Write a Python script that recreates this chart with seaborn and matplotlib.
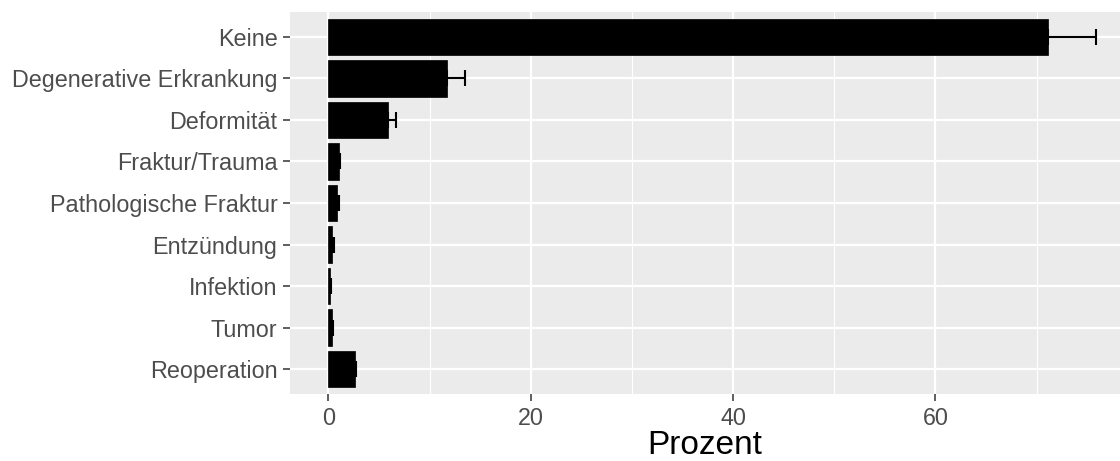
import matplotlib
matplotlib.use("Agg")
import matplotlib.pyplot as plt
import seaborn as sns
import pandas as pd
from matplotlib.ticker import MultipleLocator

categories = ["Keine", "Degenerative Erkrankung", "Deformität", "Fraktur/Trauma",
              "Pathologische Fraktur", "Entzündung", "Infektion", "Tumor", "Reoperation"]
values = [71.1, 11.7, 5.9, 1.0, 0.8, 0.4, 0.2, 0.4, 2.6]
errors = [4.8, 1.8, 0.8, 0.1, 0.25, 0.15, 0.1, 0.1, 0.15]
xticks = [0, 20, 40, 60]

df = pd.DataFrame({"cat": categories, "val": values, "err": errors})

sns.set_theme(style="darkgrid")
plt.rcParams["font.family"] = ["Liberation Sans", "DejaVu Sans"]

fig = plt.figure(figsize=(11.2, 4.61), dpi=100)
ax = fig.add_axes([290/1120, 1 - 394/461, (1120-290)/1120, (394-12)/461])
ax.set_facecolor("#EBEBEB")

sns.barplot(data=df, x="val", y="cat", order=categories, color="black",
            saturation=1, width=0.88, ax=ax, errorbar=None, edgecolor="black", linewidth=0.5)
ax.errorbar(df["val"], range(len(categories)), xerr=[[0]*len(errors), df["err"]],
            fmt="none", ecolor="black", elinewidth=1.5, capsize=6.1, capthick=1.5, zorder=3)

ax.set_xlim(-3.8, 78.25)
ax.set_ylim(len(categories) - 0.4, -0.6)
ax.set_xticks(xticks)
ax.xaxis.set_minor_locator(MultipleLocator(10))
ax.grid(which="major", color="white", linewidth=1.6)
ax.grid(which="minor", axis="x", color="white", linewidth=0.8)
ax.set_axisbelow(True)
for s in ax.spines.values():
    s.set_visible(False)

ax.tick_params(axis="both", which="major", length=5, width=1.1, color="#333333",
               labelsize=16.8, labelcolor="#4D4D4D", pad=4, bottom=True, left=True)
ax.tick_params(axis="x", which="minor", length=0)
ax.set_xlabel("Prozent", fontsize=24, color="black", labelpad=0)
ax.set_ylabel("")

fig.savefig("out.png", dpi=100, facecolor="white")
